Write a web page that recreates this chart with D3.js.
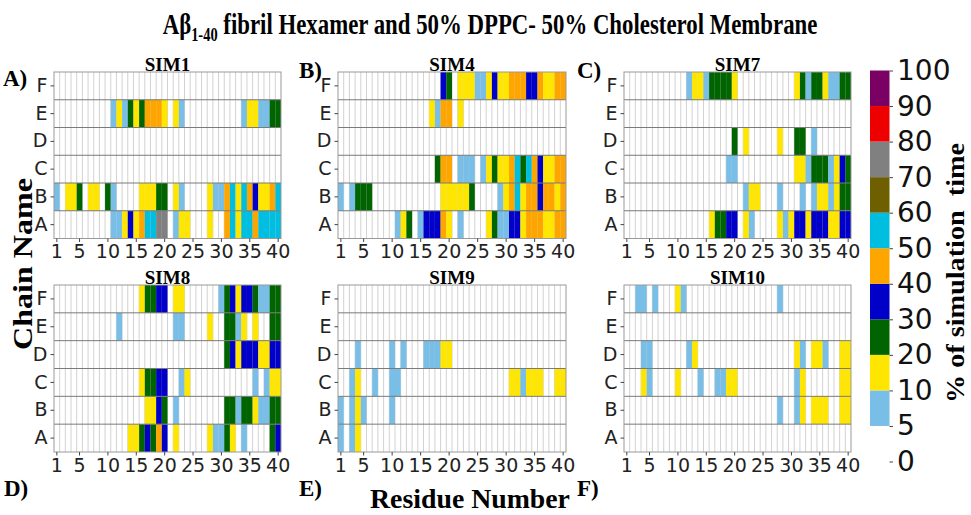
<!DOCTYPE html>
<html>
<head>
<meta charset="utf-8">
<script src="https://cdn.jsdelivr.net/npm/d3@7"></script>
<style>
  body { margin: 0; background: #fff; }
</style>
</head>
<body>
<div id="chart"></div>
<script>
// ---- data ----
const residues = d3.range(1, 41);
const chains = ["A", "B", "C", "D", "E", "F"];
const simNames = ["SIM1", "SIM4", "SIM7", "SIM8", "SIM9", "SIM10"];
const panelLetters = ["A)", "B)", "C)", "D)", "E)", "F)"];
const xTickValues = [1, 5, 10, 15, 20, 25, 30, 35, 40];
const cbTicks = [0, 5, 10, 20, 30, 40, 50, 60, 70, 80, 90, 100];
const cbColors = ["#ffffff", "#78bee6", "#ffe600", "#006400", "#0000c8", "#ffa500",
                  "#00bee0", "#6e5f00", "#808080", "#ee0000", "#7a0064"];

// % of simulation time per residue, rows = chains A..F
const sim1 = [
  [0,0,0,0,0,0,0,0,0,0, 7,7,15,35,15,45,55,55,75,75, 0,7,15,15,0,0,0,15,0,0, 45,55,15,55,55,45,55,55,55,55],
  [7,0,15,15,25,0,15,15,0,25, 7,0,0,0,0,15,15,15,25,25, 0,15,7,0,0,0,0,15,7,7, 45,55,15,55,45,35,15,15,45,55],
  [0,0,0,0,0,0,0,0,0,0, 0,0,0,0,0,0,0,0,0,0, 0,0,0,0,0,0,0,0,0,0, 0,0,0,0,0,0,0,0,0,0],
  [0,0,0,0,0,0,0,0,0,0, 0,0,0,0,0,0,0,0,0,0, 0,0,0,0,0,0,0,0,0,0, 0,0,0,0,0,0,0,0,0,0],
  [0,0,0,0,0,0,0,0,0,0, 7,15,7,25,15,25,45,45,45,15, 0,15,7,0,0,0,0,0,0,0, 0,0,0,7,15,15,7,7,25,25],
  [0,0,0,0,0,0,0,0,0,0, 0,0,0,0,0,0,0,0,0,0, 0,0,0,0,0,0,0,0,0,0, 0,0,0,0,0,0,0,0,0,0]
];
const sim4 = [
  [0,0,0,0,0,0,0,0,0,0, 7,15,25,0,7,35,35,35,45,15, 0,7,0,0,0,0,15,25,7,7, 35,35,15,45,45,45,15,15,45,45],
  [7,0,7,25,25,25,0,0,0,0, 0,0,0,0,0,0,0,0,15,15, 15,15,15,25,0,0,0,0,7,15, 45,55,15,45,45,35,45,45,15,45],
  [0,0,0,0,0,0,0,0,0,0, 0,0,0,0,0,0,0,25,45,45, 0,7,7,7,0,7,15,25,15,15, 45,55,25,55,45,35,15,15,45,45],
  [0,0,0,0,0,0,0,0,0,0, 0,0,0,0,0,0,0,0,0,0, 0,0,0,0,0,0,0,0,0,0, 0,0,0,0,0,0,0,0,0,0],
  [0,0,0,0,0,0,0,0,0,0, 0,0,0,0,0,0,15,7,45,45, 0,15,0,0,0,0,0,0,0,0, 0,0,0,0,0,0,0,0,0,0],
  [0,0,0,0,0,0,0,0,0,0, 0,0,0,0,0,0,0,0,35,25, 0,15,15,15,7,7,15,35,15,15, 45,45,45,35,35,45,15,15,45,45]
];
const sim7 = [
  [0,0,0,0,0,0,0,0,0,0, 0,0,0,0,0,15,25,25,35,35, 0,15,7,0,0,0,0,15,7,15, 35,35,15,35,35,35,15,15,35,35],
  [0,0,0,0,0,0,0,0,0,0, 0,0,0,0,0,0,0,0,0,0, 0,7,15,15,0,0,0,7,0,0, 0,7,0,7,15,15,7,15,25,25],
  [0,0,0,0,0,0,0,0,0,0, 0,0,0,0,0,0,0,0,7,7, 0,0,0,0,0,0,0,0,0,0, 15,15,7,25,25,25,7,15,35,25],
  [0,0,0,0,0,0,0,0,0,0, 0,0,0,0,0,0,0,0,0,25, 0,15,0,0,0,0,0,15,0,0, 25,25,0,7,0,0,0,0,0,0],
  [0,0,0,0,0,0,0,0,0,0, 0,0,0,0,0,0,0,0,0,0, 0,0,0,0,0,0,0,0,0,0, 0,0,0,0,0,0,0,0,0,0],
  [0,0,0,0,0,0,0,0,0,0, 0,7,15,15,7,25,25,25,25,15, 0,0,0,0,0,0,0,0,0,0, 15,25,7,25,25,15,7,7,25,25]
];
const sim8 = [
  [0,0,0,0,0,0,0,0,0,0, 0,0,0,15,15,25,35,25,45,35, 0,15,0,0,0,0,0,15,7,7, 25,15,0,7,0,0,0,0,25,35],
  [0,0,0,0,0,0,0,0,0,0, 0,0,0,0,0,0,15,15,35,25, 0,7,0,0,0,0,0,0,0,0, 25,25,7,25,25,15,7,7,25,25],
  [0,0,0,0,0,0,0,0,0,0, 0,0,0,0,0,15,25,25,35,35, 0,0,7,15,0,0,0,0,0,0, 0,0,0,0,0,7,0,7,15,15],
  [0,0,0,0,0,0,0,0,0,0, 0,0,0,0,0,0,0,0,0,0, 0,0,0,0,0,0,0,0,0,0, 25,35,15,35,35,35,15,15,35,35],
  [0,0,0,0,0,0,0,0,0,0, 0,7,0,0,0,0,0,0,0,0, 0,7,7,0,0,0,0,15,0,0, 25,25,7,15,0,15,0,0,25,25],
  [0,0,0,0,0,0,0,0,0,0, 0,0,0,0,0,15,25,25,35,35, 0,15,15,0,0,0,0,0,0,7, 25,35,15,35,35,25,7,7,25,25]
];
const sim9 = [
  [7,0,7,15,0,0,0,0,0,0, 0,0,0,0,0,0,0,0,0,0, 0,0,0,0,0,0,0,0,0,0, 0,0,0,0,0,0,0,0,0,0],
  [7,0,7,15,7,0,0,0,0,7, 0,0,0,0,0,0,0,0,0,0, 0,0,0,0,0,0,0,0,0,0, 0,0,0,0,0,0,0,0,0,0],
  [0,0,7,15,0,0,7,0,0,7, 7,0,0,0,0,0,0,0,0,0, 0,0,0,0,0,0,0,0,0,0, 15,15,7,15,15,15,0,0,15,15],
  [0,0,0,7,0,0,0,0,0,7, 0,7,0,0,0,7,7,7,15,15, 0,0,0,0,0,0,0,0,0,0, 0,0,0,0,0,0,0,0,0,0],
  [0,0,0,0,0,0,0,0,0,0, 0,0,0,0,0,0,0,0,0,0, 0,0,0,0,0,0,0,0,0,0, 0,0,0,0,0,0,0,0,0,0],
  [0,0,0,0,0,0,0,0,0,0, 0,0,0,0,0,0,0,0,0,0, 0,0,0,0,0,0,0,0,0,0, 0,0,0,0,0,0,0,0,0,0]
];
const sim10 = [
  [0,0,0,0,0,0,0,0,0,0, 0,0,0,0,0,0,0,0,0,0, 0,0,0,0,0,0,0,0,0,0, 0,0,0,0,0,0,0,0,0,0],
  [0,0,0,0,0,0,0,0,0,0, 0,0,0,0,0,0,0,0,0,0, 0,0,0,0,0,0,0,7,0,0, 7,15,0,15,15,15,0,0,15,15],
  [0,0,0,15,7,0,0,0,0,15, 0,0,0,7,0,0,7,7,15,15, 0,0,0,0,0,0,0,0,0,0, 7,15,0,0,0,0,0,0,15,15],
  [0,0,0,7,7,0,0,0,0,0, 0,7,15,0,0,0,0,0,0,0, 0,0,0,0,0,0,0,0,0,0, 15,7,0,15,15,7,0,0,15,15],
  [0,0,0,0,0,0,0,0,0,0, 0,0,0,0,0,0,0,0,0,0, 0,0,0,0,0,0,0,0,0,0, 0,0,0,0,0,0,0,0,0,0],
  [0,0,7,7,0,7,0,0,0,15, 7,0,0,0,0,0,0,0,0,0, 0,0,0,0,0,0,0,7,0,0, 0,0,0,0,0,0,0,0,0,0]
];
const sims = [sim1, sim4, sim7, sim8, sim9, sim10];

// ---- layout ----
const width = 971, height = 515;
const panelCols = [[54, 281], [338, 566], [624, 851]];
const panelRows = [[72, 238.5], [285, 452]];

const color = d3.scaleThreshold()
  .domain(cbTicks.slice(1, -1))
  .range(cbColors);

const svg = d3.select("#chart").append("svg")
  .attr("width", width)
  .attr("height", height)
  .style("background", "#fff")
  .style("display", "block");

const serif = "'Liberation Serif', 'Times New Roman', serif";
const sans = "'DejaVu Sans', sans-serif";

// squeeze a text horizontally to a given width (figure text is condensed)
function squeeze(sel, w) {
  let bw = sel.node().getBBox().width;
  sel.attr("transform", "scale(" + (w / bw) + ",1)");
}

sims.forEach(function(sim, i) {
  let col = i % 3, row = Math.floor(i / 3);
  let x = d3.scaleBand().domain(residues).range(panelCols[col]);
  let y = d3.scaleBand().domain(chains.slice().reverse()).range(panelRows[row]);
  let g = svg.append("g");

  // vertical grid lines at every residue boundary
  g.selectAll(".vgrid")
    .data(residues.slice(1))
    .enter().append("line")
    .attr("x1", d => x(d)).attr("x2", d => x(d))
    .attr("y1", y.range()[0]).attr("y2", y.range()[1])
    .attr("stroke", "#d2d2d2")
    .attr("stroke-width", 1);

  // cells
  let cells = [];
  sim.forEach(function(vals, c) {
    vals.forEach(function(v, r) {
      if (v > 0) cells.push({chain: chains[c], res: residues[r], value: v});
    });
  });
  g.selectAll(".cell")
    .data(cells)
    .enter().append("rect")
    .attr("x", d => x(d.res))
    .attr("y", d => y(d.chain))
    .attr("width", x.bandwidth())
    .attr("height", y.bandwidth())
    .attr("fill", d => color(d.value));

  // row separators
  g.selectAll(".hsep")
    .data(chains.slice(0, 5))
    .enter().append("line")
    .attr("x1", x.range()[0]).attr("x2", x.range()[1])
    .attr("y1", d => y(d)).attr("y2", d => y(d))
    .attr("stroke", "#7a7a7a")
    .attr("stroke-width", 1);

  g.append("rect")
    .attr("x", x.range()[0]).attr("y", y.range()[0])
    .attr("width", x.range()[1] - x.range()[0])
    .attr("height", y.range()[1] - y.range()[0])
    .attr("fill", "none")
    .attr("stroke", "#999");

  // axes
  let ya = g.append("g")
    .attr("transform", "translate(" + x.range()[0] + ",0)")
    .call(d3.axisLeft(y).tickSize(3.5).tickPadding(3));
  ya.select(".domain").remove();
  ya.selectAll("line").attr("stroke", "#444");
  ya.selectAll("text").style("font-family", sans).style("font-size", "19px").attr("fill", "#222");

  let xa = g.append("g")
    .attr("transform", "translate(0," + y.range()[1] + ")")
    .call(d3.axisBottom(x).tickValues(xTickValues).tickSize(3.5).tickPadding(3));
  xa.select(".domain").remove();
  xa.selectAll("line").attr("stroke", "#444");
  xa.selectAll("text").style("font-family", sans).style("font-size", "19px").attr("fill", "#222");

  // panel title
  g.append("text")
    .attr("x", (x.range()[0] + x.range()[1]) / 2)
    .attr("y", y.range()[0] - 1)
    .attr("text-anchor", "middle")
    .style("font-family", serif)
    .style("font-weight", "bold")
    .style("font-size", "19px")
    .text(simNames[i]);
});

// panel letters
const letterPos = [[3, 86], [299, 78], [577, 78], [4, 496], [299, 496], [577, 496]];
svg.selectAll(".letter")
  .data(panelLetters)
  .enter().append("text")
  .attr("x", (d, i) => letterPos[i][0])
  .attr("y", (d, i) => letterPos[i][1])
  .style("font-family", serif)
  .style("font-weight", "bold")
  .style("font-size", "23px")
  .text(d => d);

// TITLE
const titleG = svg.append("g").attr("transform", "translate(490,34)");
const title = titleG.append("text")
  .attr("text-anchor", "middle")
  .style("font-family", serif)
  .style("font-weight", "bold")
  .style("font-size", "30px");
title.append("tspan").text("A\u03b2");
title.append("tspan").attr("dy", 7).style("font-size", "19px").text("1-40");
title.append("tspan").attr("dy", -7).text(" fibril Hexamer and 50% DPPC- 50% Cholesterol Membrane");
squeeze(title, 655);

// axis labels
const xLabel = svg.append("g").attr("transform", "translate(470,508)")
  .append("text")
  .attr("text-anchor", "middle")
  .style("font-family", serif)
  .style("font-weight", "bold")
  .style("font-size", "27px")
  .text("Residue Number");
squeeze(xLabel, 200);

const yLabel = svg.append("g").attr("transform", "translate(32,264) rotate(-90)")
  .append("text")
  .attr("text-anchor", "middle")
  .style("font-family", serif)
  .style("font-weight", "bold")
  .style("font-size", "28px")
  .text("Chain Name");
squeeze(yLabel, 172);

// COLORBAR
const cbY = d3.scalePoint().domain(cbTicks).range([461.5, 70.5]);
const cbX = 870, cbW = 19.5;
const cbSegs = cbTicks.slice(0, -1).map((t, i) => ({lo: t, hi: cbTicks[i + 1], color: cbColors[i]}));
svg.selectAll(".cbseg")
  .data(cbSegs)
  .enter().append("rect")
  .attr("x", cbX)
  .attr("y", d => cbY(d.hi))
  .attr("width", cbW)
  .attr("height", d => cbY(d.lo) - cbY(d.hi))
  .attr("fill", d => d.color);

const cba = svg.append("g")
  .attr("transform", "translate(" + (cbX + cbW) + ",0)")
  .call(d3.axisRight(cbY).tickSize(3.5).tickPadding(4));
cba.select(".domain").remove();
cba.selectAll("line").attr("stroke", "#444");
cba.selectAll("text").style("font-family", sans).style("font-size", "28px").attr("fill", "#111");

const cbLabel = svg.append("g").attr("transform", "translate(958,273) rotate(-90)")
  .append("text")
  .attr("text-anchor", "middle")
  .attr("dominant-baseline", "middle")
  .style("font-family", serif)
  .style("font-weight", "bold")
  .style("font-size", "26px")
  .style("white-space", "pre")
  .text("% of simulation  time");
squeeze(cbLabel, 260);
</script>
</body>
</html>
